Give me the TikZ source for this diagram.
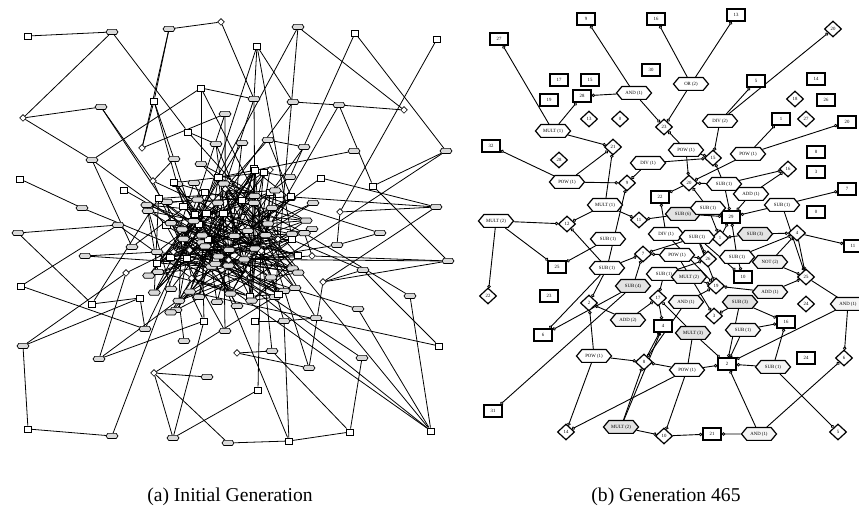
\documentclass[tikz,border=0pt]{standalone}
\usepackage{fontspec}
\setmainfont{Liberation Serif}
\usetikzlibrary{shapes.geometric,shapes.symbols,arrows.meta}
\pgfdeclarelayer{edges}
\pgfsetlayers{edges,main}
\tikzset{
  % small unlabeled nodes of the initial generation
  lhex/.style={signal, signal to=east and west, signal pointer angle=110, draw,
    fill=gray!30, line width=0.35pt, minimum width=6pt, minimum height=2.6pt, inner sep=0pt},
  lsq/.style={rectangle, draw, fill=white, line width=0.45pt, minimum width=3.6pt,
    minimum height=3pt, inner sep=0pt},
  ldia/.style={diamond, draw, fill=white, line width=0.35pt, minimum width=3.4pt,
    minimum height=3.4pt, inner sep=0pt},
  ledge/.style={line width=0.4pt, black},
  % labelled nodes of the evolved generation
  lbl/.style={font=\fontsize{2.4pt}{2.8pt}\selectfont},
  rhex/.style={signal, signal to=east and west, signal pointer angle=100, draw,
    line width=0.6pt, minimum width=17.5pt, minimum height=6.4pt, inner sep=0.4pt, lbl},
  rsq/.style={rectangle, draw, fill=white, line width=0.7pt, minimum width=9pt,
    minimum height=6pt, inner sep=0pt, lbl},
  rdia/.style={diamond, draw, fill=white, line width=0.6pt, minimum width=8.6pt,
    minimum height=8pt, inner sep=0pt, lbl},
  redge/.style={line width=0.45pt, -{Circle[open,length=1.7pt,width=1.7pt,line width=0.4pt]}},
  rplain/.style={line width=0.45pt},
  captext/.style={font=\fontsize{9.8pt}{11pt}\selectfont}
}
\pgfmathdeclarerandomlist{kinds}{{lhex}{lhex}{lhex}{lhex}{lsq}{lsq}{ldia}}
\begin{document}
\begin{tikzpicture}[x=0.5pt,y=-0.5pt]
\useasboundingbox (0,0) rectangle (859,512);
\pgfmathsetseed{465}

% ---------- (a) initial generation: outer nodes ----------
\foreach \nm/\xx/\yy/\kd in {
  a1/28/36/lsq, a2/112/32/lhex, a3/169/29/lhex, a4/221/22/ldia, a5/154/101/lsq,
  a6/201/88/lsq, a7/23/118/ldia, a8/101/107/lhex, a9/142/148/ldia, a10/225/114/lhex,
  a11/188/132/lsq, a12/216/144/lhex, a13/92/160/lhex, a14/174/159/lhex, a15/201/164/lhex,
  a16/153/181/ldia, a17/177/184/lhex, a18/194/183/lhex, a19/20/179/lsq, a20/124/190/lsq,
  a21/82/208/lhex, a22/148/211/lhex, a23/167/202/lhex, a24/118/225/lhex,
  b1/298/27/lhex, b2/257/46/lsq, b3/355/33/lsq, b4/437/39/lsq, b5/254/99/lhex,
  b6/293/102/lhex, b7/339/105/lhex, b8/404/110/ldia, b9/446/151/lhex, b10/242/143/lhex,
  b11/268/140/lhex, b12/304/147/lhex, b13/354/151/lhex, b14/270/170/ldia, b15/290/177/lhex,
  b16/321/178/lsq, b17/373/186/lsq, b18/436/207/lhex, b19/340/212/ldia, b20/313/203/lhex,
  b21/290/198/lhex, b22/270/192/lsq, b23/254/203/lhex, b24/272/208/lhex,
  c1/18/233/lhex, c3/21/286/lsq, c4/85/256/lhex, c5/132/247/lhex, c6/157/252/lhex,
  c7/126/273/ldia, c8/158/272/lhex, c9/92/304/lsq, c10/140/298/lsq, c11/145/329/lhex,
  c12/171/289/lhex, c13/176/310/lhex, c14/184/341/lhex, c15/204/321/lsq, c16/23/346/lhex,
  c17/99/359/lhex, c18/154/373/ldia, c19/207/377/lhex, c20/28/429/lsq, c21/112/436/lhex,
  c22/173/438/lhex, c23/228/443/lhex, c24/199/297/lhex, c25/217/302/lhex, c26/225/331/lhex,
  d1/312/229/lhex, d2/380/233/lhex, d3/337/245/lhex, d4/448/261/lhex, d5/312/256/ldia,
  d6/363/270/lhex, d7/323/282/ldia, d8/410/296/lhex, d9/295/288/lhex, d10/275/297/lhex,
  d11/237/306/lhex, d12/255/321/lsq, d13/284/321/lhex, d14/316/318/lhex, d15/358/309/lhex,
  d16/439/346/lsq, d17/272/351/lhex, d18/237/353/ldia, d19/309/368/lhex, d20/362/358/lhex,
  d21/258/390/lsq, d22/350/432/lsq, d23/431/431/lsq, d24/289/441/lsq}
  \node[\kd] (\nm) at (\xx,\yy) {};

% ---------- (a) dense core ----------
\foreach \i in {1,...,72}{
  \pgfmathsetmacro\ang{360*rnd}
  \pgfmathsetmacro\rr{0.08+0.92*pow(rnd,0.8)}
  \pgfmathsetmacro\px{222+88*\rr*cos(\ang)}
  \pgfmathsetmacro\py{245+88*\rr*sin(\ang)}
  \pgfmathrandomitem{\kd}{kinds}
  \node[\kd] (C\i) at (\px,\py) {};
}

\begin{pgfonlayer}{edges}
\foreach \p/\q in {
  a1/a2, a2/a7, a2/a11, a3/a4, a3/a5, a3/a9, a4/b5, a5/a14, a5/a9, a7/a8, a7/a13,
  a8/a16, a9/a10, a6/a15, a6/b5, a11/a12, a13/a6, a13/c5, a19/a21, a14/a16,
  b1/d10, b1/b8, b2/b6, b2/b5, b3/b9, b3/b15, b4/b19, b6/b7, b7/b8, b7/b17, b9/b17,
  b17/d4, b11/b12, b19/b18, b16/b18, b19/d3,
  c1/a24, c1/c9, a24/c3, c3/c11, c4/c6, c9/c10, c10/c11, c16/c20, c16/c10, c16/c7,
  c20/c21, c17/c7, c17/c15, c18/c19, c18/c22, c18/c23, c22/c15,
  d2/d3, d7/d6, d7/d4, d7/d19, d5/d4, d7/b18, d8/d23, d16/d6, d15/d23, d20/d22,
  d22/d17, d24/d22, d24/d13, d12/d13, d13/d14, d17/d18, d18/d19, d21/c22, c23/d24}
  \draw[ledge] (\p) -- (\q);
\foreach \i in {1,...,72}{
  \foreach \rep in {1,2}{
    \pgfmathrandominteger{\k}{1}{71}
    \pgfmathtruncatemacro\j{mod(\i-1+\k,72)+1}
    \draw[ledge] (C\i) -- (C\j);
  }
}
\foreach \nm/\cnt in {
  a8/1, a10/2, a12/2, a13/1, a14/1, a15/2, a16/2, a17/2, a18/2, a20/1, a21/1, a22/2,
  a23/2, a24/1, b2/2, b5/2, b6/1, b7/1, b10/2, b11/2, b12/1, b13/1, b14/2, b15/2, b16/1,
  b20/2, b21/2, b22/2, b23/2, b24/2, c4/1, c5/1, c6/2, c8/2, c9/1, c12/2, c13/2, c14/1,
  c15/2, c18/1, c21/1, c24/2, c25/2, c26/2, d1/2, d3/1, d4/1, d5/2, d6/1, d8/1, d9/2,
  d10/2, d11/2, d13/1, d14/1, d15/1, d17/1, d19/1, d20/1, d21/1, d23/3, d24/1, b9/1,
  b18/1, a6/1, a11/1, a5/1, c7/1, c11/1, c17/1, d2/1, d16/1, b1/1}{
  \foreach \rep in {1,...,\cnt}{
    \pgfmathrandominteger{\k}{1}{72}
    \draw[ledge] (\nm) -- (C\k);
  }
}
\end{pgfonlayer}

% ---------- (b) generation 465 ----------
\foreach \nm/\xx/\yy/\lab in {
  s9/586/19/9, s16/656/19/16, s13/736/15/13, s27/499/39/27, s30/651/70/30, s17/559/80/17,
  s15/590/80/15, s19/549/100/19, s28/582/96/28, s5/756/81/5, s14/816/79/14, s26/826/100/26,
  s1/781/119/1, s20/847/122/20, s32/491/146/32, s8/816/152/8, s3/816/172/3, s7/847/189/7,
  s0/816/212/0, s11/853/246/11, s22/660/197/22, s29/731/217/29, s25/557/267/25,
  s10/743/277/10, s23/549/296/23, s6/543/335/6, s4/663/326/4, s16b/786/322/16,
  s2/727/364/2, s21/712/434/21, s24/806/358/24, s31/493/411/31}
  \node[rsq] (\nm) at (\xx,\yy) {\lab};
\foreach \nm/\xx/\yy/\lab in {
  t20/833/29/20, t23/664/127/23, t13/589/119/13, t0/620/119/0, t21/613/147/21,
  t18/795/99/18, t27/806/119/27, t28/559/160/28, t9/627/183/9, t15/713/158/15,
  t20b/689/183/20, t16/788/169/16, t11/639/220/11, t12/567/224/12, t7/643/254/7,
  t1/720/238/1, t4/797/233/4, t26/708/259/26, t19/716/286/19, t25/806/277/25,
  t17/658/298/17, t3/714/316/3, t2/589/303/2, t8/644/362/8, t10/664/436/10,
  t14/566/432/14, t6/844/358/6, t5/838/432/5, t22/488/296/22, t24/806/304/24}
  \node[rdia] (\nm) at (\xx,\yy) {\lab};
\foreach \nm/\xx/\yy/\lab/\fl in {
  h1/634/93/AND (1)/white, h2/691/84/OR (2)/white, h3/553/131/MULT (1)/white,
  h4/720/121/DIV (2)/white, h5/686/150/POW (1)/white, h6/748/154/POW (1)/white,
  h7/648/163/DIV (1)/white, h8/567/182/POW (1)/white, h9/724/184/SUB (1)/white,
  h10/751/194/ADD (1)/white, h11/782/205/SUB (1)/white, h12/605/205/MULT (1)/white,
  h13/683/214/SUB (6)/gray!22, h14/708/208/SUB (1)/white, h15/496/221/MULT (2)/white,
  h16/666/234/DIV (1)/white, h17/697/237/SUB (1)/white, h18/755/234/SUB (3)/gray!22,
  h19/608/239/SUB (1)/white, h20/677/255/POW (1)/white, h21/607/268/SUB (1)/white,
  h22/737/257/SUB (1)/white, h23/770/262/NOT (2)/gray!10, h24/664/274/SUB (1)/white,
  h25/689/277/MULT (2)/gray!10, h26/633/286/SUB (4)/gray!22, h27/686/302/AND (1)/gray!8,
  h28/628/320/ADD (2)/gray!8, h29/740/302/SUB (3)/gray!22, h30/770/292/ADD (1)/gray!8,
  h31/848/304/AND (1)/gray!8, h32/743/330/SUB (1)/gray!8, h33/693/333/MULT (3)/gray!22,
  h34/594/356/POW (1)/white, h35/687/370/POW (1)/white, h36/773/367/SUB (1)/gray!8,
  h37/621/427/MULT (2)/gray!22, h38/759/434/AND (1)/gray!8}
  \node[rhex, fill=\fl] (\nm) at (\xx,\yy) {\lab};

\begin{pgfonlayer}{edges}
\foreach \p/\q in {
  h1/s9, h2/s16, h2/s13, h2/t23, h1/s28, h1/t23, h3/s27, h3/s28, h3/t21, h4/s5, h4/t20,
  h4/t15, h6/s1, h6/s20, h5/t23, h8/s32, h8/t21, h8/t9, h7/t9, h12/t21, h21/t9, h12/t12,
  h12/t11, h15/t12, h15/s25, h15/t22, h19/s25, h21/t12, h13/t11, h16/s22, h21/t7, h21/t2,
  h21/s6, h26/s6, h26/s31, h28/t2, h34/t2, h34/t8, h34/t14, h35/t14, h28/t17, h24/t17,
  h37/s4, h37/t8, h37/t10, h27/t8, h27/t19, h33/s2, h33/t17, h29/t3, h29/s16b, h29/s2,
  h32/s2, h32/s16b, h20/t3, h30/t19, h30/t25, h31/s2, h31/t6, h36/s2, h36/s16b, h36/t5,
  h38/s2, h38/s21, h38/t6, h35/s2, h35/t10, h35/t8, h13/s29, h9/t16, h9/t20b, h9/s29,
  h10/t16, h10/s29, h11/s7, h11/s29, h11/t25, h5/t15, h5/t20b, h7/t15, h6/t20b, h9/t15,
  h14/t20b, h18/t4, h22/t4, h23/t4, h23/t25, h17/t1, h14/t1, h18/t1, h22/s10, h22/s29,
  h17/t19, h16/t19, h20/t26, h17/t26, h24/t26, h25/t19, h20/t7, h26/t7, h17/t7, h17/s10,
  t17/s4, t8/s4, t20b/s22, t1/s29, t4/s11, t4/t25, t10/s21}
  \draw[redge] (\p) -- (\q);
\foreach \p/\q in {h33/h35, t25/h31}
  \draw[rplain] (\p) -- (\q);
\end{pgfonlayer}

% ---------- captions ----------
\node[captext] (capa) at (230,497) {(a) Initial Generation};
\node[captext] (capb) at (666,497) {(b) Generation 465};
\end{tikzpicture}
\end{document}
